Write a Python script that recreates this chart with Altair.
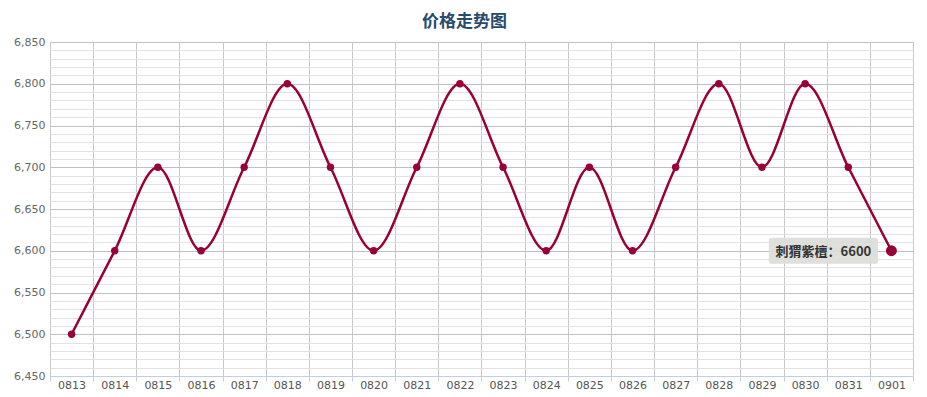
import altair as alt
import pandas as pd

dates = ["0813", "0814", "0815", "0816", "0817", "0818", "0819", "0820", "0821", "0822",
         "0823", "0824", "0825", "0826", "0827", "0828", "0829", "0830", "0831", "0901"]
prices = [6500, 6600, 6700, 6600, 6700, 6800, 6700, 6600, 6700, 6800,
          6700, 6600, 6700, 6600, 6700, 6800, 6700, 6800, 6700, 6600]
series_name = "刺猬紫檀"
y_ticks = list(range(6450, 6851, 10))

df = pd.DataFrame({"date": dates, "price": prices})
df["label"] = series_name + "：" + df["price"].astype(str)
last = df.tail(1)

x_enc = alt.X(
    "date:O",
    bandPosition=0.5,
    scale=alt.Scale(type="band", paddingInner=0, paddingOuter=0),
    axis=alt.Axis(
        title=None, labelAngle=0, tickBand="extent", grid=True, gridColor="#c8c8c8",
        domainColor="#c0d0e0", tickColor="#c0d0e0", tickSize=5, labelColor="#555555",
        labelFontSize=11, labelPadding=-2, labelFont="DejaVu Sans", labelBaseline="top",
    ),
)
y_scale = alt.Scale(domain=[6450, 6850], nice=False, zero=False)
y_enc = alt.Y(
    "price:Q",
    scale=y_scale,
    axis=alt.Axis(
        title=None, values=y_ticks, format=",", domain=False, ticks=False,
        labelExpr="datum.value % 50 === 0 ? format(datum.value, ',') : ''",
        gridColor={"condition": {"test": "datum.value % 50 === 0", "value": "#c0c0c0"}, "value": "#e2e2e2"},
        labelColor="#666666", labelFontSize=11, labelPadding=5, labelFont="DejaVu Sans",
    ),
)

base = alt.Chart(df)
line = base.mark_line(color="#990033", strokeWidth=2.5, interpolate="monotone").encode(x=x_enc, y=y_enc)
pts = base.mark_point(filled=True, color="#990033", size=55, opacity=1).encode(x=x_enc, y=y_enc)

lb = alt.Chart(last)
box = lb.mark_point(
    shape="M-4,-1H4A0.2,0.2 0 0 1 4.2,-0.8V0.8A0.2,0.2 0 0 1 4,1H-4A0.2,0.2 0 0 1 -4.2,0.8V-0.8A0.2,0.2 0 0 1 -4,-1Z",
    filled=True, color="#dcdcd8", opacity=0.92, size=676, xOffset=-68,
).encode(x=x_enc, y=y_enc)
big = lb.mark_point(filled=True, color="#990033", size=120, opacity=1).encode(x=x_enc, y=y_enc)
txt = lb.mark_text(
    dx=-68, dy=1, fontWeight="bold", fontSize=13, color="#333333", font="Noto Sans CJK SC",
).encode(x=x_enc, y=y_enc, text="label:N")

chart = alt.layer(line, pts, box, big, txt).properties(
    width=863, height=334,
    title=alt.TitleParams("价格走势图", fontSize=17, font="Noto Sans CJK SC", fontWeight="bold",
                          color="#274b6d", anchor="middle", offset=5, dx=-17),
).configure_view(stroke=None)

chart.save("out.html", embed_options={"renderer": "svg", "actions": False})
